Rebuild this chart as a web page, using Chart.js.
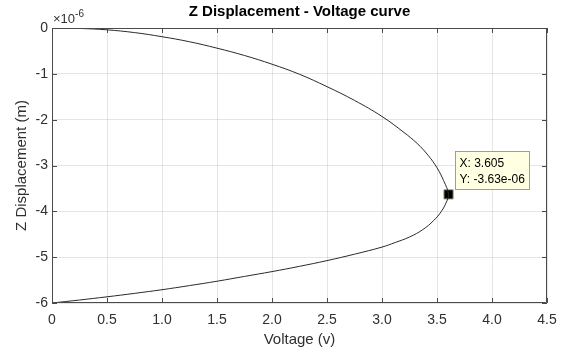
<!DOCTYPE html>
<html>
<head>
<meta charset="utf-8">
<script src="https://cdn.jsdelivr.net/npm/chart.js@4.4.0/dist/chart.umd.min.js"></script>
<style>
  body { margin: 0; background: #fff; }
</style>
</head>
<body>
<canvas id="grafico" width="561" height="349"></canvas>
<script>
// voltage (v) and z displacement (micrometres)
const voltagem = [0, 0.25, 0.5, 0.75, 1.0, 1.25, 1.5, 1.75, 2.0, 2.25, 2.5, 2.75, 3.0, 3.2, 3.32, 3.42, 3.5, 3.56, 3.605,
                  3.585, 3.54, 3.47, 3.37, 3.25, 3.12, 3.0, 2.75, 2.5, 2.25, 2.0, 1.75, 1.5, 1.25, 1.0, 0.75, 0.5, 0.25, 0]
const deslocMicro = [0, -0.01, -0.04, -0.10, -0.19, -0.30, -0.44, -0.60, -0.79, -1.01, -1.28, -1.58, -1.93, -2.28, -2.52, -2.78, -3.05, -3.33, -3.63,
                     -3.8, -4.0, -4.2, -4.4, -4.56, -4.68, -4.78, -4.935, -5.075, -5.2, -5.315, -5.42, -5.525, -5.62, -5.71, -5.79, -5.865, -5.935, -6.0]
const unidade = 1e-6

// datatip point
const tipX = [3.605]
const tipY = [-3.63]

const xTicks = [0, 0.5, 1, 1.5, 2, 2.5, 3, 3.5, 4, 4.5]
const yTicks = [0, -1, -2, -3, -4, -5, -6]

const titulo = 'Z Displacement - Voltage curve'
const corTexto = '#303030'
const fonte = '"Liberation Sans", Arial, Helvetica, sans-serif'

const pontos = voltagem.map((v, i) => ({ x: v, y: deslocMicro[i] * unidade }))
const pontoTip = tipX.map((v, i) => ({ x: v, y: tipY[i] * unidade }))

function expoente(n) {
    // -3.63e-6 -> -3.63e-06 (matlab style)
    const s = n.toExponential(2)
    return s.replace(/e([+-])(\d)$/, 'e$10$2')
}

// title over the axes, box, inward ticks, exponent label and datatip
const extras = {
    id: 'extras',
    afterDraw(chart) {
        const ctx = chart.ctx
        const a = chart.chartArea
        const sx = chart.scales.x
        const sy = chart.scales.y
        ctx.save()

        ctx.fillStyle = '#000'
        ctx.font = 'bold 15px ' + fonte
        ctx.textAlign = 'center'
        ctx.textBaseline = 'middle'
        ctx.fillText(titulo, (a.left + a.right) / 2, 12)

        ctx.strokeStyle = '#4a4a4a'
        ctx.lineWidth = 1
        ctx.beginPath()
        ctx.rect(a.left + 0.5, a.top + 0.5, a.right - a.left - 1, a.bottom - a.top - 1)
        ctx.stroke()

        const tam = 5
        ctx.beginPath()
        xTicks.forEach(t => {
            const px = Math.round(sx.getPixelForValue(t)) + 0.5
            ctx.moveTo(px, a.bottom); ctx.lineTo(px, a.bottom - tam)
            ctx.moveTo(px, a.top); ctx.lineTo(px, a.top + tam)
        })
        yTicks.forEach(t => {
            const py = Math.round(sy.getPixelForValue(t * unidade)) + 0.5
            ctx.moveTo(a.left, py); ctx.lineTo(a.left + tam, py)
            ctx.moveTo(a.right, py); ctx.lineTo(a.right - tam, py)
        })
        ctx.stroke()

        // x10^-6
        ctx.fillStyle = corTexto
        ctx.textBaseline = 'alphabetic'
        ctx.textAlign = 'left'
        ctx.font = '13px ' + fonte
        ctx.fillText('\u00d710', a.left + 1, a.top - 5)
        const w = ctx.measureText('\u00d710').width
        ctx.font = '10px ' + fonte
        ctx.fillText('-6', a.left + 1 + w, a.top - 11)

        // datatip
        const mx = sx.getPixelForValue(tipX[0])
        const my = sy.getPixelForValue(tipY[0] * unidade)
        const bx = Math.round(mx + 6) + 0.5
        const by = Math.round(my - 43) + 0.5
        ctx.fillStyle = '#ffffe1'
        ctx.strokeStyle = '#a0a088'
        ctx.fillRect(bx, by, 74, 38)
        ctx.strokeRect(bx, by, 74, 38)
        ctx.fillStyle = '#000'
        ctx.font = '12px ' + fonte
        ctx.textBaseline = 'middle'
        ctx.fillText('X: ' + tipX[0], bx + 4, by + 12.5)
        ctx.fillText('Y: ' + expoente(tipY[0] * unidade), bx + 4, by + 28)
        ctx.restore()
    }
}

new Chart(document.getElementById('grafico'), {
    type: 'scatter',
    data: {
        datasets: [{
            data: pontos,
            showLine: true,
            borderColor: '#2a2a2a',
            borderWidth: 1,
            pointRadius: 0,
            tension: 0.4
        }, {
            data: pontoTip,
            pointStyle: 'rect',
            pointRadius: 6.6,
            backgroundColor: '#000',
            borderColor: '#b0b080',
            borderWidth: 1
        }]
    },
    options: {
        responsive: false,
        animation: false,
        devicePixelRatio: 1,
        layout: { padding: { left: 0, right: 14, top: 28, bottom: 0 } },
        plugins: {
            legend: { display: false },
            tooltip: { enabled: false },
            title: { display: false }
        },
        scales: {
            x: {
                type: 'linear',
                min: 0,
                max: 4.5,
                afterFit(s) { s.height = 46; s.paddingLeft = 0; s.paddingRight = 0 },
                afterBuildTicks(s) { s.ticks = xTicks.map(v => ({ value: v })) },
                grid: { color: 'rgba(38,38,38,0.12)', drawTicks: false },
                border: { display: false },
                ticks: { color: corTexto, font: { family: fonte, size: 14 }, padding: 9, maxRotation: 0 },
                title: {
                    display: true,
                    text: 'Voltage (v)',
                    color: corTexto,
                    font: { family: fonte, size: 15, lineHeight: 1.2 },
                    padding: { bottom: 0 }
                }
            },
            y: {
                type: 'linear',
                min: -6 * unidade,
                max: 0,
                afterFit(s) { s.width = 52; s.paddingTop = 0; s.paddingBottom = 0 },
                afterBuildTicks(s) { s.ticks = yTicks.map(v => ({ value: v * unidade })) },
                grid: { color: 'rgba(38,38,38,0.12)', drawTicks: false },
                border: { display: false },
                ticks: {
                    color: corTexto,
                    font: { family: fonte, size: 14 },
                    padding: 4,
                    callback: v => String(Math.round(v / unidade))
                },
                title: {
                    display: true,
                    text: 'Z Displacement (m)',
                    color: corTexto,
                    font: { family: fonte, size: 15, lineHeight: 1.2 },
                    padding: { top: 12.5 }
                }
            }
        }
    },
    plugins: [extras]
})
</script>
</body>
</html>
